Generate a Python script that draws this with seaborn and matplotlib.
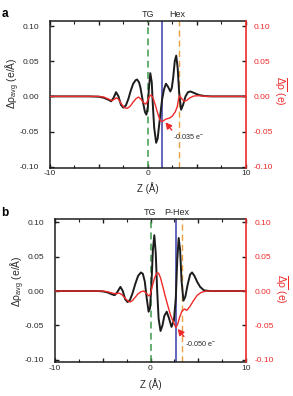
import numpy as np
import pandas as pd
import matplotlib
matplotlib.use("Agg")
import matplotlib.pyplot as plt
import seaborn as sns
from matplotlib.ticker import MultipleLocator, FixedLocator, FixedFormatter
from matplotlib.transforms import blended_transform_factory

sns.set_theme(style="white")
plt.rcParams['font.family'] = ['Liberation Sans', 'DejaVu Sans']
plt.rcParams['mathtext.fontset'] = 'custom'
plt.rcParams['mathtext.rm'] = 'Liberation Sans'
plt.rcParams['mathtext.it'] = 'Liberation Sans'
plt.rcParams['mathtext.default'] = 'regular'

# ---------------- data ----------------
# Panel a
a_black_z = [-10, -6, -5, -4.5, -4.0, -3.75, -3.5, -3.25, -3.0, -2.75, -2.5, -2.25, -2.0,
             -1.75, -1.5, -1.25, -1.1, -0.9, -0.75, -0.5, -0.3, -0.15, 0.0, 0.1, 0.25, 0.4,
             0.5, 0.65, 0.85, 1.0, 1.2, 1.45, 1.65, 1.85, 2.05, 2.3, 2.45, 2.6, 2.75, 2.9,
             3.05, 3.2, 3.4, 3.6, 3.85, 4.1, 4.35, 4.7, 5.2, 5.8, 6.5, 10]
a_black_v = [0, 0, -0.0005, -0.002, -0.005, -0.007, -0.002, 0.006, 0.0, -0.012, -0.016, -0.013, -0.004,
             0.008, 0.018, 0.023, 0.024, 0.020, 0.012, -0.008, -0.022, -0.026, -0.015, 0.010, 0.033, 0.020,
             -0.010, -0.045, -0.066, -0.060, -0.035, -0.005, 0.010, 0.018, 0.014, 0.007, 0.012, 0.028, 0.050, 0.058,
             0.040, 0.005, -0.019, -0.012, 0.0, 0.006, 0.007, 0.005, 0.002, 0.0005, 0, 0]
a_red_z = [-10, -5, -4.5, -4.0, -3.7, -3.4, -3.2, -3.0, -2.7, -2.4, -2.1, -1.8, -1.5, -1.2, -0.95,
           -0.7, -0.45, -0.2, -0.05, 0.15, 0.35, 0.55, 0.8, 1.05, 1.25, 1.45, 1.65, 1.9, 2.2, 2.5,
           2.8, 3.0, 3.15, 3.25, 3.45, 3.7, 3.95, 4.3, 4.7, 5.2, 6, 10]
a_red_v = [0, 0, -0.001, -0.004, -0.006, -0.004, -0.002, -0.004, -0.011, -0.016, -0.017, -0.014, -0.008, -0.003, -0.001,
           -0.004, -0.009, -0.011, -0.007, 0.000, 0.002, -0.003, -0.014, -0.026, -0.034, -0.036, -0.034, -0.032, -0.031, -0.028,
           -0.022, -0.015, -0.003, 0.001, -0.003, -0.007, -0.006, -0.002, 0.0005, 0.001, 0, 0]

# Panel b
b_black_z = [-10, -5.5, -5, -4.5, -4.0, -3.75, -3.5, -3.15, -2.9, -2.65, -2.4, -2.15, -1.9, -1.6, -1.3,
             -1.0, -0.8, -0.6, -0.4, -0.2, -0.05, 0.1, 0.25, 0.4, 0.55, 0.7, 0.85, 1.05, 1.25, 1.45,
             1.7, 1.95, 2.2, 2.45, 2.65, 2.8, 2.95, 3.1, 3.25, 3.45, 3.65, 3.9, 4.15, 4.35, 4.6, 4.9,
             5.2, 5.6, 6.2, 10]
b_black_v = [0, 0, -0.0005, -0.002, -0.005, -0.006, -0.002, 0.006, 0.0, -0.012, -0.016, -0.013, -0.004, 0.010, 0.022,
             0.027, 0.025, 0.014, -0.010, -0.030, -0.025, 0.010, 0.060, 0.081, 0.055, 0.000, -0.040, -0.058, -0.050, -0.036,
             -0.030, -0.040, -0.052, -0.043, -0.010, 0.045, 0.077, 0.060, 0.015, -0.014, -0.008, 0.010, 0.024, 0.027, 0.022, 0.013,
             0.006, 0.001, 0, 0]
b_red_z = [-10, -5, -4.5, -4.0, -3.7, -3.3, -3.0, -2.7, -2.4, -2.15, -1.9, -1.6, -1.3, -1.0, -0.7,
           -0.45, -0.2, -0.05, 0.15, 0.4, 0.65, 0.85, 1.05, 1.3, 1.55, 1.85, 2.1, 2.4, 2.65, 2.85,
           3.05, 3.3, 3.55, 3.8, 4.1, 4.5, 4.9, 5.3, 5.8, 10]
b_red_v = [0, 0, -0.001, -0.003, -0.004, -0.003, -0.005, -0.010, -0.014, -0.016, -0.014, -0.009, -0.004, -0.001, 0.000,
           -0.003, -0.007, -0.006, 0.005, 0.018, 0.026, 0.026, 0.019, 0.006, -0.008, -0.023, -0.035, -0.045, -0.053, -0.048,
           -0.038, -0.029, -0.026, -0.028, -0.023, -0.014, -0.006, -0.002, 0, 0]

panel_letters = ["a", "b"]
site_labels = [["TG", "Hex"], ["TG", "P-Hex"]]
tg_pos = [0.0, 0.0]
blue_pos = [1.45, 2.67]
orange_pos = [3.22, 3.26]
min_text = ["-0.035 e$^{-}$", "-0.050 e$^{-}$"]
arrow_head = [(1.8, -0.037), (2.85, -0.055)]
arrow_tail = [(2.45, -0.048), (3.5, -0.066)]
label_pos = [(0.0, 3.05), (0.0, 2.75)]

xticks_major = [-10, -5, 0, 5, 10]
xtick_labels = ["-10", "", "0", "", "10"]
yticks = [-0.10, -0.05, 0.00, 0.05, 0.10]
ytick_labels = ["-0.10", "-0.05", "0.00", "0.05", "0.10"]

# ---------------- styling ----------------
W, H = 293, 396
BLACK = "#1c1c1c"
RED = "#ee2a2a"
GREEN = "#3d9a4c"
BLUE = "#3a3aa8"
ORANGE = "#e8a040"
TXT = "#2a2a2a"

fig = plt.figure(figsize=(W / 100, H / 100), dpi=100)

# axes boxes in pixel coords: left, right, top, bottom
boxes = [(50, 245.7, 20.7, 167.7), (55, 246, 218.7, 362)]
ylims = [(-0.1014, 0.1076), (-0.103, 0.105)]
left_label_xy = [(-0.142, 0.575), (-0.146, 0.565)]
right_label_xy = [(1.175, 0.52), (1.185, 0.51)]
xlabel_y = [-0.10, -0.115]
letter_xy = [(1.5, 13.7), (1.5, 213.5)]

curves = [(a_black_z, a_black_v, a_red_z, a_red_v), (b_black_z, b_black_v, b_red_z, b_red_v)]

for i in range(2):
    l, r, t, b = boxes[i]
    ax = fig.add_axes([l / W, 1 - b / H, (r - l) / W, (b - t) / H])
    ax2 = ax.twinx()
    bz, bv, rz, rv = curves[i]
    dfb = pd.DataFrame({"Z": bz, "v": bv})
    dfr = pd.DataFrame({"Z": rz, "v": rv})

    # vertical markers
    ax.axvline(tg_pos[i], color=GREEN, lw=1.1, ls=(0, (4.5, 2.8)), zorder=1)
    ax.axvline(orange_pos[i], color=ORANGE, lw=1.0, ls=(0, (4.5, 2.8)), zorder=1)
    ax.axvline(blue_pos[i], color=BLUE, lw=1.1, zorder=1)

    sns.lineplot(data=dfb, x="Z", y="v", ax=ax, color=BLACK, lw=1.4, zorder=3)
    sns.lineplot(data=dfr, x="Z", y="v", ax=ax2, color=RED, lw=1.0, zorder=3)

    for a in (ax, ax2):
        a.set_xlim(-10, 10)
        a.set_ylim(*ylims[i])
        a.set_ylabel("")
        a.set_xlabel("")

    ax.xaxis.set_major_locator(FixedLocator(xticks_major))
    ax.xaxis.set_major_formatter(FixedFormatter(xtick_labels))
    ax.xaxis.set_minor_locator(MultipleLocator(2.5))
    ax.yaxis.set_major_locator(FixedLocator(yticks))
    ax.yaxis.set_major_formatter(FixedFormatter(ytick_labels))
    ax2.yaxis.set_major_locator(FixedLocator(yticks))
    ax2.yaxis.set_major_formatter(FixedFormatter(ytick_labels))

    ax.tick_params(axis="x", which="major", direction="in", top=True, bottom=True,
                   length=3, width=1.0, color=BLACK, labelsize=6, labelcolor=TXT, pad=2)
    ax.tick_params(axis="x", which="minor", direction="in", top=True, bottom=True,
                   length=2, width=0.8, color=BLACK)
    ax.tick_params(axis="y", which="major", direction="in", left=True, right=False,
                   length=3, width=1.0, color=BLACK, labelsize=6, labelcolor=TXT, pad=8)
    ax2.tick_params(axis="y", which="major", direction="in", right=True, left=False,
                    length=3, width=1.0, color=BLACK, labelsize=6, labelcolor=RED, pad=6)

    for s in ("left", "bottom", "top"):
        ax.spines[s].set_color(BLACK)
        ax.spines[s].set_linewidth(1.1)
    ax.spines["right"].set_visible(False)
    for s in ("left", "bottom", "top"):
        ax2.spines[s].set_visible(False)
    ax2.spines["right"].set_color(RED)
    ax2.spines["right"].set_linewidth(1.2)
    ax2.spines["right"].set_visible(True)

    ax.set_ylabel(r"$\Delta\rho_{avg}$ (e/Å)", fontsize=7.5, color=TXT)
    ax.yaxis.set_label_coords(*left_label_xy[i])
    ax2.set_ylabel(r"$\overline{\Delta\rho}$ (e)", fontsize=7.5, color=RED, rotation=270, va="center")
    ax2.yaxis.set_label_coords(*right_label_xy[i])
    ax.set_xlabel("Z (Å)", fontsize=7, color=TXT)
    ax.xaxis.set_label_coords(0.5, xlabel_y[i])

    tr = blended_transform_factory(ax.transData, ax.transAxes)
    ax.text(tg_pos[i], 1.012, site_labels[i][0], transform=tr, ha="center", va="bottom",
            fontsize=6.5, color=TXT)
    ax.text(label_pos[i][1], 1.012, site_labels[i][1], transform=tr, ha="center", va="bottom",
            fontsize=6.5, color=TXT)

    ax2.annotate("", xy=arrow_head[i], xytext=arrow_tail[i],
                 arrowprops=dict(arrowstyle="-|>,head_length=0.3,head_width=0.16", color=RED, lw=1.0,
                                 shrinkA=0, shrinkB=0), zorder=5)
    ax2.text(arrow_tail[i][0] + 0.1, arrow_tail[i][1] - 0.0095, min_text[i], fontsize=5.2,
             color=TXT, ha="left", va="center")

    fig.text(letter_xy[i][0] / W, 1 - letter_xy[i][1] / H, panel_letters[i], fontsize=8.5,
             fontweight="bold", color="black", ha="left", va="center")

fig.savefig("out.png", dpi=100)
